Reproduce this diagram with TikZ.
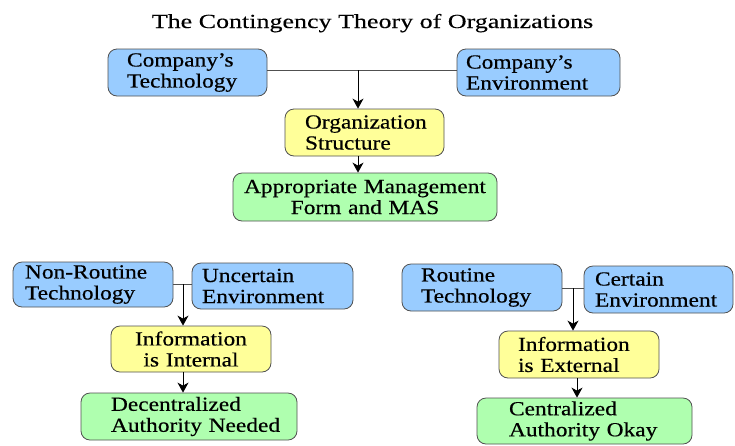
\documentclass[tikz,border=0pt]{standalone}
\usepackage{fontspec}
\setmainfont{Liberation Serif}[FakeStretch=1.17,FakeBold=0.4]
\newfontfamily\titlefont{Liberation Serif}[FakeStretch=1.3,FakeBold=0.3]
\usetikzlibrary{arrows.meta}
\definecolor{bxblue}{HTML}{99CCFF}
\definecolor{bxyellow}{HTML}{FFFF99}
\definecolor{bxgreen}{HTML}{AFFFAF}
\definecolor{bxline}{HTML}{505050}
\tikzset{
  bx/.style={draw=bxline, line width=0.8pt, rounded corners=9pt, inner ysep=0pt,
    font=\fontsize{20}{21}\selectfont, align=left},
  conn/.style={draw=bxline, line width=0.9pt},
  arr/.style={conn, -{Stealth[length=10pt,width=11pt,inset=3pt]}, black}
}
\begin{document}
\begin{tikzpicture}[x=1pt,y=-1pt]
\useasboundingbox (0,0) rectangle (735,445);
\node[anchor=base, font=\titlefont\fontsize{20}{22}\selectfont] (title) at (372.5,28) {The Contingency Theory of Organizations};
% top group
\node[bx, fill=bxblue, minimum height=47pt, inner xsep=19pt, text width=121pt] (tech) at (187.5,72.5) {Company's\\Technology};
\node[bx, fill=bxblue, minimum height=47pt, inner xsep=9pt, text width=145pt] (env) at (538.5,72.5) {Company's\\Environment};
\node[bx, fill=bxyellow, minimum height=47pt, inner xsep=20pt, text width=119pt] (org) at (364.5,132.5) {Organization\\Structure};
\node[bx, fill=bxgreen, minimum height=48pt, inner xsep=8pt, text width=248pt, align=center] (amf) at (365,197) {Appropriate Management\\Form and MAS};
% bottom left
\node[bx, fill=bxblue, minimum height=45pt, inner xsep=12pt, text width=136pt] (nrt) at (93,284.5) {Non-Routine\\Technology};
\node[bx, fill=bxblue, minimum height=46pt, inner xsep=10pt, text width=141pt] (unc) at (272.5,286) {Uncertain\\Environment};
\node[bx, fill=bxyellow, minimum height=46pt, inner xsep=8pt, text width=144pt, align=center] (inti) at (191,349) {Information\\is Internal};
\node[bx, fill=bxgreen, minimum height=47pt, inner xsep=30pt, text width=156pt] (dec) at (189,416.5) {Decentralized\\Authority~Needed};
% bottom right
\node[bx, fill=bxblue, minimum height=47pt, inner xsep=19pt, text width=122pt] (rt) at (482,287.5) {Routine\\Technology};
\node[bx, fill=bxblue, minimum height=47pt, inner xsep=11pt, text width=127pt] (cer) at (658.5,289.5) {Certain\\Environment};
\node[bx, fill=bxyellow, minimum height=47pt, inner xsep=19pt, text width=122pt] (inte) at (579,354.5) {Information\\is External};
\node[bx, fill=bxgreen, minimum height=46pt, inner xsep=32pt, text width=151pt] (cen) at (584.5,421) {Centralized\\Authority~Okay};
% connectors top
\coordinate (j1) at (358,70);
\draw[conn] (tech.east |- j1) -- (env.west |- j1);
\draw[arr] (j1) -- (j1 |- org.north);
\draw[arr] (j1 |- org.south) -- (j1 |- amf.north);
% connectors bottom left
\coordinate (j2) at (183,284);
\draw[conn] (nrt.east |- j2) -- (unc.west |- j2);
\draw[arr] (j2) -- (j2 |- inti.north);
\draw[arr] (j2 |- inti.south) -- (j2 |- dec.north);
% connectors bottom right
\coordinate (j3) at (573,288);
\coordinate (j4) at (577,378);
\draw[conn] (rt.east |- j3) -- (cer.west |- j3);
\draw[arr] (j3) -- (j3 |- inte.north);
\draw[arr] (j4 |- inte.south) -- (j4 |- cen.north);
\end{tikzpicture}
\end{document}
